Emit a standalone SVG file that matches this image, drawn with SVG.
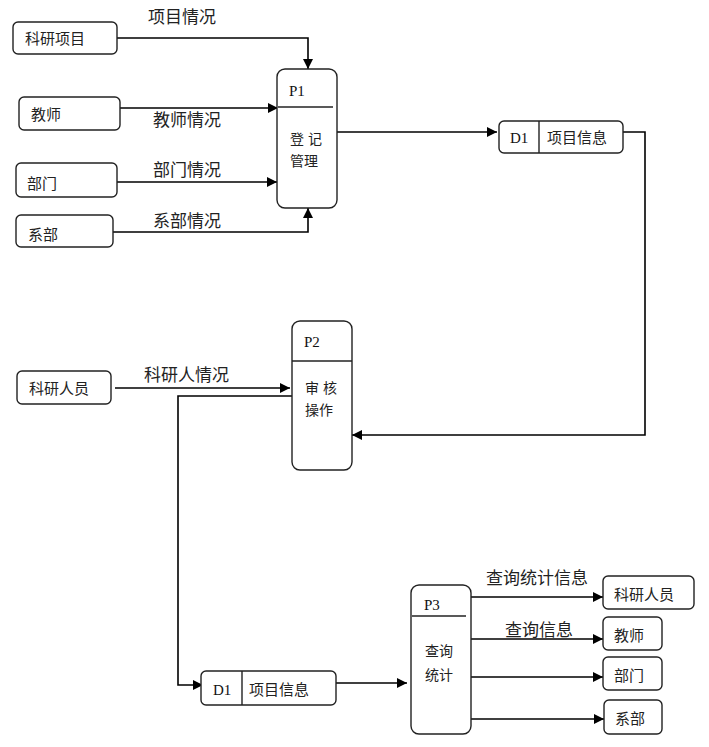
<svg xmlns="http://www.w3.org/2000/svg" width="709" height="747" viewBox="0 0 709 747">
<defs>
<marker id="arr" viewBox="0 0 10 10" refX="10" refY="5" markerWidth="10" markerHeight="10" markerUnits="userSpaceOnUse" orient="auto">
<path d="M0,0 L10,5 L0,10 z" fill="#000"/>
</marker>
</defs>
<style>
.box{fill:#fff;stroke:#222;stroke-width:1.4}
.div{stroke:#222;stroke-width:1.4;fill:none}
.t{font-family:"Noto Sans CJK SC","Liberation Sans",sans-serif;font-size:15px;fill:#222}
.pt{font-family:"Noto Sans CJK SC","Liberation Sans",sans-serif;font-size:14px;fill:#222}
.id{font-family:"Liberation Serif",serif;font-size:15px;fill:#111}
.lbl{font-family:"Noto Sans CJK SC","Liberation Sans",sans-serif;font-size:17px;fill:#222}
.c{fill:none;stroke:#000;stroke-width:1.6}
</style>
<rect width="709" height="747" fill="#fff"/>
<g id="connectors">
<path class="c" d="M117,38 H308 V69" marker-end="url(#arr)"/>
<path class="c" d="M120,108 H278" marker-end="url(#arr)"/>
<path class="c" d="M117,182 H277" marker-end="url(#arr)"/>
<path class="c" d="M113,232 H308 V208" marker-end="url(#arr)"/>
<path class="c" d="M337,132 H497" marker-end="url(#arr)"/>
<path class="c" d="M618,132 H645 V435 H352" marker-end="url(#arr)"/>
<path class="c" d="M115,388 H290" marker-end="url(#arr)"/>
<path class="c" d="M292,396 H178 V685 H203" marker-end="url(#arr)"/>
<path class="c" d="M336,683 H407" marker-end="url(#arr)"/>
<path class="c" d="M471,597 H603" marker-end="url(#arr)"/>
<path class="c" d="M471,639 H603" marker-end="url(#arr)"/>
<path class="c" d="M471,677 H603" marker-end="url(#arr)"/>
<path class="c" d="M471,719 H604" marker-end="url(#arr)"/>
<text class="lbl" x="148" y="23">项目情况</text>
<text class="lbl" x="153" y="126">教师情况</text>
<text class="lbl" x="153" y="176">部门情况</text>
<text class="lbl" x="153" y="227">系部情况</text>
<text class="lbl" x="144" y="381">科研人情况</text>
<text class="lbl" x="486" y="584">查询统计信息</text>
<text class="lbl" x="505" y="636">查询信息</text>
</g>
<g id="n-kyxm"><rect class="box" x="13" y="22" width="104" height="32" rx="5"/><text class="t" x="25" y="44">科研项目</text></g>
<g id="n-js"><rect class="box" x="19" y="97" width="101" height="33" rx="5"/><text class="t" x="31" y="120">教师</text></g>
<g id="n-bm"><rect class="box" x="16" y="163" width="101" height="34" rx="5"/><text class="t" x="27" y="189">部门</text></g>
<g id="n-xb"><rect class="box" x="16" y="215" width="97" height="32" rx="5"/><text class="t" x="28" y="240">系部</text></g>
<g id="p1"><rect class="box" x="277" y="69" width="60" height="139" rx="8"/><line class="div" x1="278" y1="107" x2="333" y2="107"/><text class="id" x="289" y="96">P1</text><text class="pt" x="290" y="144" letter-spacing="4">登记</text><text class="pt" x="290" y="166">管理</text></g>
<g id="d1a"><rect class="box" x="499" y="121" width="124" height="32" rx="5"/><line class="div" x1="539" y1="121" x2="539" y2="153"/><text class="id" x="510" y="143">D1</text><text class="t" x="547" y="143">项目信息</text></g>
<g id="n-kyry1"><rect class="box" x="17" y="371" width="94" height="33" rx="5"/><text class="t" x="29" y="394">科研人员</text></g>
<g id="p2"><rect class="box" x="292" y="321" width="60" height="149" rx="8"/><line class="div" x1="292" y1="361" x2="352" y2="361"/><text class="id" x="304" y="347">P2</text><text class="pt" x="305" y="393" letter-spacing="4">审核</text><text class="pt" x="305" y="415">操作</text></g>
<g id="d1b"><rect class="box" x="201" y="671" width="135" height="34" rx="5"/><line class="div" x1="242" y1="671" x2="242" y2="705"/><text class="id" x="213" y="695">D1</text><text class="t" x="249" y="695">项目信息</text></g>
<g id="p3"><rect class="box" x="411" y="585" width="60" height="149" rx="8"/><line class="div" x1="412" y1="616" x2="466" y2="616"/><text class="id" x="424" y="610">P3</text><text class="pt" x="425" y="656">查询</text><text class="pt" x="425" y="680">统计</text></g>
<g id="n-kyry2"><rect class="box" x="603" y="576" width="91" height="33" rx="5"/><text class="t" x="614" y="600">科研人员</text></g>
<g id="n-js2"><rect class="box" x="603" y="617" width="59" height="33" rx="5"/><text class="t" x="614" y="641">教师</text></g>
<g id="n-bm2"><rect class="box" x="603" y="657" width="59" height="33" rx="5"/><text class="t" x="614" y="681">部门</text></g>
<g id="n-xb2"><rect class="box" x="604" y="700" width="58" height="34" rx="5"/><text class="t" x="615" y="724">系部</text></g>
</svg>
